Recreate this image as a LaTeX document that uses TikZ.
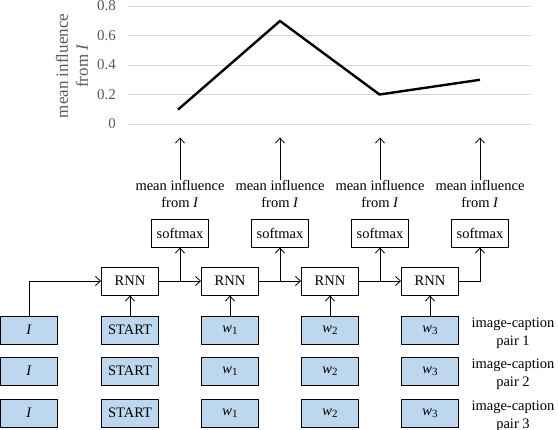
\documentclass[tikz,border=0pt]{standalone}
\usepackage{fontspec}
\setmainfont{Liberation Serif}
\usetikzlibrary{arrows.meta}
\definecolor{inblue}{HTML}{BDD7EE}
\definecolor{axgray}{HTML}{595959}
\definecolor{grid}{HTML}{D9D9D9}
\begin{document}
\begin{tikzpicture}[x=1pt,y=-1pt,
  box/.style={draw=black, line width=0.9pt, minimum width=57pt, minimum height=28pt, inner sep=0pt, font=\fontsize{14.5}{17}\selectfont},
  inbox/.style={box, fill=inblue},
  arr/.style={-{Straight Barb[length=5pt,width=9pt]}, line width=0.8pt},
  lbl/.style={align=center, font=\fontsize{14.5}{17.5}\selectfont, inner sep=0pt},
  tick/.style={anchor=east, text=axgray, font=\fontsize{15}{17}\selectfont, inner sep=0pt},
  gridline/.style={draw=grid, line width=0.8pt},
  dataline/.style={line width=2.4pt, line join=miter, line cap=butt}
]
\useasboundingbox (0,0) rectangle (558,430);
% chart grid
\foreach \v/\y in {0.8/6,0.6/35.5,0.4/65,0.2/94.5,0/124}{
  \draw[gridline] (128,\y) -- (531,\y);
  \node[tick] at (116,\y) {\v};
}
\node[rotate=90, align=center, text=axgray, font=\fontsize{17}{20}\selectfont, inner sep=0pt] (ytitle) at (72,66) {mean influence\\from \textit{I}};
\coordinate (p1) at (178,109.6);
\coordinate (p2) at (280,21);
\coordinate (p3) at (379.5,94.5);
\coordinate (p4) at (480,79.8);
\draw[dataline] (p1) -- (p2) -- (p3) -- (p4);
% nodes
\foreach \i/\x in {1/130,2/230,3/330,4/430}{
  \node[box] (r\i) at (\x,281) {RNN};
}
\foreach \i/\x in {1/180,2/280,3/380,4/480}{
  \node[box] (s\i) at (\x,233) {softmax};
  \node[lbl] (m\i) at (\x,194) {mean influence\\from \textit{I}};
  \coordinate (c\i) at (\x,137.5);
  \draw[arr] (m\i.north) -- (c\i);
}
% inputs
\foreach \r/\y in {1/330,2/371,3/413}{
  \node[inbox] (i\r) at (29,\y) {\textit{I}};
  \node[inbox] (st\r) at (130,\y) {START};
  \node[inbox] (wa\r) at (230,\y) {\textit{w}\raisebox{-0.35ex}{\fontsize{11}{12}\selectfont 1}};
  \node[inbox] (wb\r) at (330,\y) {\textit{w}\raisebox{-0.35ex}{\fontsize{11}{12}\selectfont 2}};
  \node[inbox] (wc\r) at (430,\y) {\textit{w}\raisebox{-0.35ex}{\fontsize{11}{12}\selectfont 3}};
  \node[lbl, align=center] (pl\r) at (513,\y+3) {image-caption\\pair \r};
}
% connectors
\draw[arr] (i1.north) |- (r1.west);
\draw[arr] (st1.north) -- (r1.south);
\draw[arr] (wa1.north) -- (r2.south);
\draw[arr] (wb1.north) -- (r3.south);
\draw[arr] (wc1.north) -- (r4.south);
\draw[arr] (r1.east) -- (r2.west);
\draw[arr] (r2.east) -- (r3.west);
\draw[arr] (r3.east) -- (r4.west);
\draw[arr] (s1 |- r1.east) -- (s1.south);
\draw[arr] (s2 |- r2.east) -- (s2.south);
\draw[arr] (s3 |- r3.east) -- (s3.south);
\draw[arr] (r4.east) -| (s4.south);
\end{tikzpicture}
\end{document}
